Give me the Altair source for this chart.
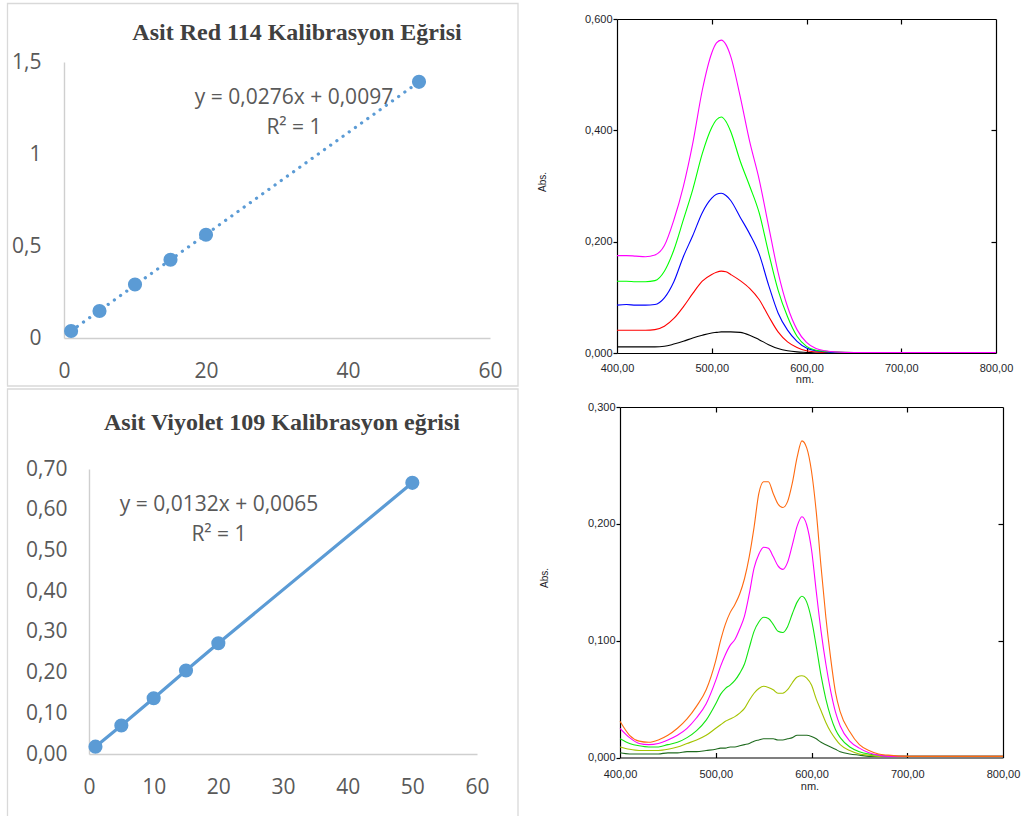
import altair as alt
import pandas as pd

# ---------------- data ----------------
# Calibration: Asit Red 114
RED_CONC = [1, 5, 10, 15, 20, 50]
RED_ABS = [0.038, 0.147, 0.291, 0.425, 0.561, 1.392]
RED_TITLE = "Asit Red 114 Kalibrasyon Eğrisi"
RED_EQ = ["y = 0,0276x + 0,0097", "R² = 1"]

# Calibration: Asit Viyolet 109
VIO_CONC = [1, 5, 10, 15, 20, 50]
VIO_ABS = [0.018, 0.070, 0.137, 0.205, 0.272, 0.666]
VIO_TITLE = "Asit Viyolet 109 Kalibrasyon eğrisi"
VIO_EQ = ["y = 0,0132x + 0,0065", "R² = 1"]

# Spectra (top right)
TR_WL = [400, 410, 420, 430, 440, 450, 460, 470, 480, 490, 500, 505, 510, 515, 520,
         530, 540, 550, 560, 570, 580, 590, 600, 610, 620, 630, 650, 700, 750, 800]
TR_MAGENTA = [0.175, 0.175, 0.174, 0.173, 0.176, 0.193, 0.239, 0.299, 0.377, 0.472,
              0.539, 0.557, 0.562, 0.554, 0.533, 0.461, 0.380, 0.312, 0.228, 0.145,
              0.083, 0.042, 0.019, 0.008, 0.004, 0.002, 0.001, 0.001, 0.001, 0.001]
TR_GREEN = [0.129, 0.129, 0.128, 0.128, 0.130, 0.147, 0.185, 0.239, 0.294, 0.358,
            0.405, 0.419, 0.424, 0.416, 0.398, 0.345, 0.300, 0.252, 0.180, 0.113,
            0.065, 0.030, 0.012, 0.005, 0.003, 0.002, 0.001, 0.001, 0.001, 0.001]
TR_BLUE = [0.086, 0.087, 0.086, 0.086, 0.087, 0.099, 0.128, 0.173, 0.211, 0.252,
           0.278, 0.285, 0.287, 0.283, 0.274, 0.244, 0.214, 0.178, 0.122, 0.072,
           0.041, 0.021, 0.009, 0.004, 0.002, 0.001, 0.001, 0.001, 0.001, 0.001]
TR_RED = [0.041, 0.041, 0.041, 0.041, 0.042, 0.048, 0.062, 0.083, 0.107, 0.129,
          0.141, 0.145, 0.147, 0.146, 0.141, 0.130, 0.116, 0.096, 0.066, 0.038,
          0.020, 0.010, 0.004, 0.002, 0.001, 0.001, 0.001, 0.001, 0.001, 0.001]
TR_BLACK = [0.011, 0.011, 0.011, 0.011, 0.011, 0.012, 0.016, 0.021, 0.027, 0.032,
            0.036, 0.037, 0.038, 0.038, 0.038, 0.037, 0.032, 0.024, 0.015, 0.008,
            0.004, 0.002, 0.001, 0.0, 0.0, 0.0, 0.0, 0.0, 0.0, 0.0]
TR_NAMES = ["black", "red", "blue", "green", "magenta"]
TR_COLORS = ["#000000", "#ff0000", "#0000ff", "#00ff00", "#ff00ff"]

# Spectra (bottom right)
BR_WL = [400, 410, 420, 430, 440, 450, 460, 470, 480, 490, 500, 505, 510, 515, 520,
         525, 530, 535, 540, 545, 550, 555, 560, 565, 570, 575, 580, 585, 590, 595,
         600, 605, 610, 615, 620, 625, 630, 640, 650, 660, 670, 680, 700, 750, 800]
BR_ORANGE = [0.031, 0.019, 0.014, 0.013, 0.015, 0.019, 0.025, 0.033, 0.044, 0.058,
             0.083, 0.100, 0.114, 0.124, 0.131, 0.140, 0.153, 0.172, 0.197, 0.226,
             0.236, 0.236, 0.226, 0.217, 0.214, 0.219, 0.235, 0.257, 0.271, 0.265,
             0.245, 0.210, 0.163, 0.120, 0.085, 0.056, 0.039, 0.022, 0.011, 0.006,
             0.003, 0.002, 0.001, 0.001, 0.001]
BR_MAGENTA = [0.025, 0.017, 0.012, 0.011, 0.012, 0.015, 0.019, 0.025, 0.034, 0.046,
              0.066, 0.078, 0.088, 0.096, 0.101, 0.110, 0.121, 0.140, 0.162, 0.174,
              0.180, 0.179, 0.172, 0.164, 0.161, 0.167, 0.182, 0.198, 0.206, 0.199,
              0.178, 0.142, 0.108, 0.080, 0.057, 0.039, 0.027, 0.014, 0.008, 0.004,
              0.002, 0.001, 0.001, 0.001, 0.001]
BR_GREEN = [0.016, 0.012, 0.010, 0.009, 0.009, 0.011, 0.013, 0.017, 0.023, 0.032,
            0.046, 0.054, 0.059, 0.062, 0.066, 0.072, 0.080, 0.094, 0.108, 0.116,
            0.120, 0.119, 0.114, 0.108, 0.107, 0.112, 0.123, 0.133, 0.138, 0.133,
            0.118, 0.095, 0.070, 0.050, 0.035, 0.024, 0.017, 0.009, 0.005, 0.003,
            0.002, 0.001, 0.001, 0.001, 0.001]
BR_YELLOWGREEN = [0.009, 0.007, 0.006, 0.006, 0.006, 0.007, 0.009, 0.012, 0.015, 0.019,
                  0.025, 0.028, 0.031, 0.033, 0.035, 0.038, 0.042, 0.049, 0.055, 0.059,
                  0.061, 0.060, 0.058, 0.055, 0.055, 0.058, 0.064, 0.069, 0.070, 0.068,
                  0.062, 0.050, 0.040, 0.030, 0.022, 0.016, 0.011, 0.006, 0.003, 0.002,
                  0.001, 0.001, 0.001, 0.001, 0.001]
BR_DARKGREEN = [0.004, 0.003, 0.003, 0.003, 0.003, 0.004, 0.004, 0.005, 0.005, 0.006,
                0.007, 0.008, 0.008, 0.009, 0.009, 0.010, 0.011, 0.012, 0.014, 0.015,
                0.016, 0.016, 0.016, 0.015, 0.015, 0.016, 0.017, 0.019, 0.019, 0.019,
                0.018, 0.016, 0.013, 0.011, 0.009, 0.007, 0.005, 0.003, 0.002, 0.001,
                0.001, 0.001, 0.001, 0.001, 0.001]
BR_NAMES = ["darkgreen", "yellowgreen", "green", "magenta", "orange"]
BR_COLORS = ["#1f6b1f", "#a4c400", "#11e611", "#ff00ff", "#ff6a10"]

# ---------------- tables ----------------
red_df = pd.DataFrame({"c": RED_CONC, "a": RED_ABS})
vio_df = pd.DataFrame({"c": VIO_CONC, "a": VIO_ABS})

tr_series = dict(zip(TR_NAMES, [TR_BLACK, TR_RED, TR_BLUE, TR_GREEN, TR_MAGENTA]))
tr_df = pd.concat([pd.DataFrame({"wl": TR_WL, "a": v, "s": k}) for k, v in tr_series.items()])
br_series = dict(zip(BR_NAMES, [BR_DARKGREEN, BR_YELLOWGREEN, BR_GREEN, BR_MAGENTA, BR_ORANGE]))
br_df = pd.concat([pd.DataFrame({"wl": BR_WL, "a": v, "s": k}) for k, v in br_series.items()])
one = pd.DataFrame({"k": [0]})

W, H = 1022, 816
XL_FONT = "Open Sans"
XL_GRAY = "#595959"
XL_BLUE = "#5b9bd5"
SP_FONT = "Liberation Sans"
SP_TXT = "#1e1e2a"


def comma(fmt):
    return f"replace(format(datum.value, '{fmt}'), '.', ',')"


def xl_axis(orient, offset, values, fmt, pad):
    return alt.Axis(orient=orient, offset=offset, values=values, ticks=False, grid=False,
                    title=None, domainColor="#cfcfcf", domainWidth=1.4,
                    labelFont=XL_FONT, labelFontSize=21, labelColor=XL_GRAY,
                    labelPadding=pad, labelOverlap=False, labelFlush=False,
                    labelBound=False, labelExpr=comma(fmt), zindex=0)


def calib_panel(df, xs, ys, xoff, yoff, xvals, yvals, yfmt, ypad, dotted):
    pts = alt.Chart(df).mark_circle(size=200, color=XL_BLUE, opacity=1).encode(
        x=alt.X("c:Q", scale=xs, axis=xl_axis("bottom", xoff, xvals, "d", 22)),
        y=alt.Y("a:Q", scale=ys, axis=xl_axis("left", yoff, yvals, yfmt, ypad)),
    )
    if dotted:
        line = alt.Chart(df).transform_regression("c", "a").mark_line(
            color=XL_BLUE, strokeWidth=3.2, strokeDash=[0.1, 7.5], strokeCap="round")
    else:
        line = alt.Chart(df).mark_line(color=XL_BLUE, strokeWidth=3.2)
    line = line.encode(x=alt.X("c:Q", scale=xs, axis=None),
                       y=alt.Y("a:Q", scale=ys, axis=None))
    return [line, pts]


def label(text, x, y, **kw):
    return alt.Chart(one).mark_text(**kw).encode(
        text=alt.value(text), x=alt.value(x), y=alt.value(y))


layers = []

# ---- borders of the two Excel charts (outline only)
for (y0, y1) in [(3.5, 386), (389, 830)]:
    layers.append(alt.Chart(one).mark_rect(fillOpacity=0, stroke="#d9d9d9", strokeWidth=1.3).encode(
        x=alt.value(7.5), x2=alt.value(518), y=alt.value(y0), y2=alt.value(y1)))

# ---- top-left calibration
tl_x = alt.Scale(domain=[0, 60], range=[64, 490], nice=False, zero=False)
tl_y = alt.Scale(domain=[0, 1.5], range=[338, 62], nice=False, zero=False)
layers += calib_panel(red_df, tl_x, tl_y, 338 - H, -64, [0, 20, 40, 60],
                      [0, 0.5, 1, 1.5], "~g", 23, True)
layers.append(label(RED_TITLE, 297, 40, font="Liberation Serif", fontWeight="bold",
                    fontSize=24, color="#404040", align="center", baseline="alphabetic"))
layers.append(label(RED_EQ, 294, 104, font=XL_FONT, fontSize=21, color=XL_GRAY,
                    align="center", baseline="alphabetic", lineHeight=30))

# ---- bottom-left calibration
bl_x = alt.Scale(domain=[0, 60], range=[89, 477], nice=False, zero=False)
bl_y = alt.Scale(domain=[0, 0.7], range=[754, 469], nice=False, zero=False)
layers += calib_panel(vio_df, bl_x, bl_y, 754 - H, -89, [0, 10, 20, 30, 40, 50, 60],
                      [0, 0.1, 0.2, 0.3, 0.4, 0.5, 0.6, 0.7], ".2f", 22, False)
layers.append(label(VIO_TITLE, 282, 430, font="Liberation Serif", fontWeight="bold",
                    fontSize=24, color="#404040", align="center", baseline="alphabetic"))
layers.append(label(VIO_EQ, 219, 511, font=XL_FONT, fontSize=21, color=XL_GRAY,
                    align="center", baseline="alphabetic", lineHeight=30))


# ---- spectra panels
def spec_panel(df, names, colors, x0, x1, y0, y1, ymax, yvals, yinner, xpad, ab_xy, nm_xy):
    xs = alt.Scale(domain=[400, 800], range=[x0, x1], nice=False, zero=False)
    ys = alt.Scale(domain=[0, ymax], range=[y1, y0], nice=False, zero=False)
    base = dict(grid=False, title=None, domainColor="black", domainWidth=1.2,
                tickColor="black", tickWidth=1.2)
    lab = dict(labelFont=SP_FONT, labelFontSize=11, labelColor=SP_TXT, labelOverlap=False,
               labelFlush=False, labelBound=False)
    xaxis = alt.Axis(orient="bottom", offset=y1 - H, values=[400, 500, 600, 700, 800],
                     ticks=False, labelPadding=xpad, labelExpr=comma(".2f"), **base, **lab)
    yaxis = alt.Axis(orient="left", offset=-x0, values=yvals, ticks=True, tickSize=4,
                     labelPadding=1, labelExpr=comma(".3f"), **base, **lab)
    lines = alt.Chart(df).mark_line(strokeWidth=1.1, interpolate="monotone").encode(
        x=alt.X("wl:Q", scale=xs, axis=xaxis),
        y=alt.Y("a:Q", scale=ys, axis=yaxis),
        color=alt.Color("s:N", scale=alt.Scale(domain=names, range=colors), legend=None),
    )
    # inward ticks on bottom (up) and right (left) + right frame line
    f1 = alt.Chart(df).mark_point(opacity=0).encode(
        x=alt.X("wl:Q", scale=xs, axis=alt.Axis(orient="top", offset=-y1, values=[500, 600, 700],
                                                 labels=False, domain=False, ticks=True,
                                                 tickSize=5, **base)),
        y=alt.Y("a:Q", scale=ys, axis=alt.Axis(orient="left", offset=-x1, values=yinner,
                                                labels=False, domain=True, ticks=True,
                                                tickSize=5, **base)),
    )
    # top frame line with downward ticks
    f2 = alt.Chart(df).mark_point(opacity=0).encode(
        x=alt.X("wl:Q", scale=xs, axis=alt.Axis(orient="bottom", offset=y0 - H,
                                                 values=[500, 600, 700], labels=False,
                                                 domain=True, ticks=True, tickSize=5, **base)),
        y=alt.Y("a:Q", scale=ys, axis=None),
    )
    ab = label("Abs.", ab_xy[0], ab_xy[1], font=SP_FONT, fontSize=10, color=SP_TXT,
               align="center", baseline="middle", angle=270)
    nm = label("nm.", nm_xy[0], nm_xy[1], font=SP_FONT, fontSize=11, color=SP_TXT,
               align="center", baseline="alphabetic")
    return [lines, f1, f2, ab, nm]


layers += spec_panel(tr_df, TR_NAMES, TR_COLORS, 617, 996, 19, 353, 0.6,
                     [0, 0.2, 0.4, 0.6], [0.2, 0.4], 9, (543, 182), (805, 383))
layers += spec_panel(br_df, BR_NAMES, BR_COLORS, 620, 1003, 407, 757.5, 0.3,
                     [0, 0.1, 0.2, 0.3], [0.1, 0.2], 11, (545, 578), (810, 790))

chart = alt.layer(*layers).resolve_scale(
    x="independent", y="independent", color="independent"
).resolve_axis(x="independent", y="independent").properties(
    width=W, height=H, padding=0, background="white",
    autosize=alt.AutoSizeParams(type="none"),
).configure_view(strokeWidth=0)

chart.save("out.html", embed_options={"renderer": "svg", "actions": False})
